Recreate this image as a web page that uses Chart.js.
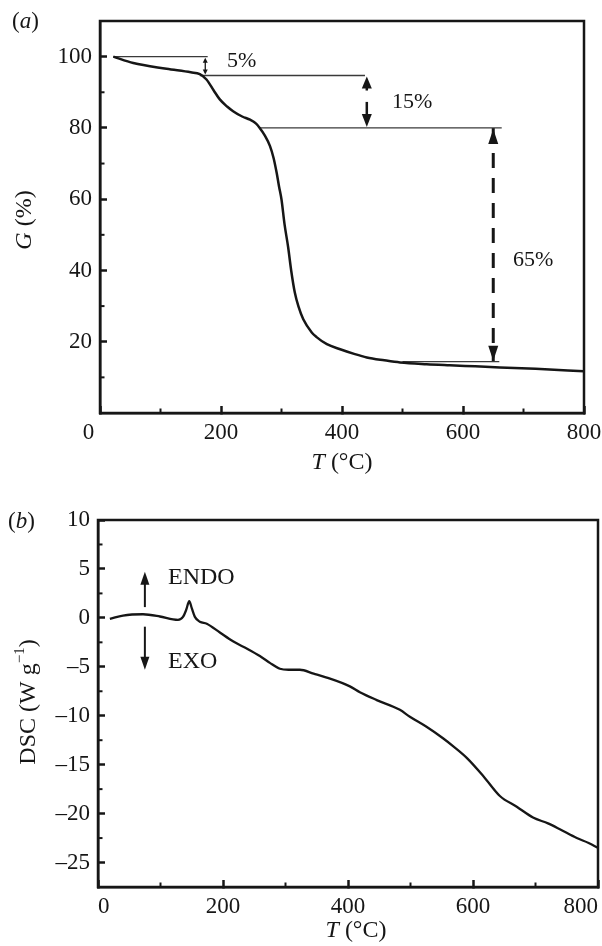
<!DOCTYPE html>
<html>
<head>
<meta charset="utf-8">
<script src="https://cdn.jsdelivr.net/npm/chart.js@4.4.1/dist/chart.umd.min.js"></script>
<style>
body { margin: 0; background: #fff; }
#wrap { position: relative; width: 602px; height: 946px; }
#tga { position: absolute; left: 0; top: 0; }
#dsc { position: absolute; left: 0; top: 480px; }
</style>
</head>
<body>
<div id="wrap">
<canvas id="tga" width="602" height="480"></canvas>
<canvas id="dsc" width="602" height="466"></canvas>
</div>
<script>
// (a) TGA curve: temperature (°C) and remaining mass G (%)
var tgaTemp = [22, 55, 110, 150, 165, 176, 188, 198, 210, 220, 235, 248, 258, 264, 272, 281, 287, 292, 296, 300, 305, 311, 316, 322, 328, 336, 350, 358, 375, 397, 420, 441, 470, 496, 540, 578, 620, 661, 720, 800];
var tgaMass = [100, 98.2, 96.6, 95.6, 95.1, 93.6, 90.5, 88, 86, 84.7, 83.2, 82.3, 81.2, 80, 78, 74.9, 71.5, 67.4, 63.5, 59.9, 53, 46.5, 40, 33.8, 29.9, 26.3, 22.6, 21.3, 19.3, 17.9, 16.6, 15.6, 14.8, 14.2, 13.7, 13.4, 13.1, 12.8, 12.4, 11.7];
var tgaYTicks = [20, 40, 60, 80, 100];
var tgaYMinor = [10, 30, 50, 70, 90];
var tempTicks = [0, 200, 400, 600, 800];
var tempMinor = [100, 300, 500, 700];

// mass-loss steps: level lines (G %) and the measuring arrows
var stepLevel = [100, 94.7, 80, 14.4];
var stepFrom = [22, 165, 264, 500];
var stepTo = [178, 438, 664, 660];
var stepArrowT = [174, 441, 650];
var stepLabels = ['5%', '15%', '65%'];

// (b) DSC curve: temperature (°C) and heat flow (W/g)
var dscTemp = [19, 40, 72, 99, 120, 128, 136, 141, 146, 150, 155, 163, 174, 195, 216, 240, 259, 275, 291, 305, 323, 345, 366, 403, 419, 446, 483, 499, 525, 552, 570, 590, 617, 643, 670, 696, 720, 739, 766, 785, 800];
var dscHeat = [-0.1, 0.24, 0.37, 0.14, -0.15, -0.2, 0.1, 0.8, 1.7, 1.0, 0.1, -0.4, -0.6, -1.5, -2.4, -3.2, -3.9, -4.6, -5.2, -5.3, -5.3, -5.7, -6.1, -7.0, -7.6, -8.4, -9.4, -10.1, -11.1, -12.3, -13.2, -14.3, -16.2, -18.2, -19.3, -20.4, -21.0, -21.6, -22.5, -23.0, -23.5];
var dscYTicks = [-25, -20, -15, -10, -5, 0, 5, 10];
var dscYLabels = ['\u201325', '\u201320', '\u201315', '\u201310', '\u20135', '0', '5', '10'];
var dscYMinor = [-22.5, -17.5, -12.5, -7.5, -2.5, 2.5, 7.5];
var endoT = 75;
var endoSpan = [1.1, 4.7];
var exoSpan = [-0.9, -5.3];

var ink = '#161616';
Chart.defaults.font.family = '"Liberation Serif", serif';
Chart.defaults.font.size = 23;
Chart.defaults.color = ink;

function pts(xs, ys) {
    return xs.map(function(x, i) { return {x: x, y: ys[i]}; });
}

function richText(ctx, parts, x, y, size, align, rot) {
    ctx.save();
    ctx.translate(x, y);
    if (rot) ctx.rotate(rot);
    ctx.textBaseline = 'middle';
    ctx.textAlign = 'left';
    ctx.fillStyle = ink;
    var fontOf = function(p) {
        return (p.italic ? 'italic ' : '') + Math.round(p.sup ? size * 0.62 : size) + 'px "Liberation Serif"';
    };
    var w = 0;
    parts.forEach(function(p) { ctx.font = fontOf(p); w += ctx.measureText(p.t).width; });
    var cx = align == 'left' ? 0 : -w / 2;
    parts.forEach(function(p) {
        ctx.font = fontOf(p);
        ctx.fillText(p.t, cx, p.sup ? -size * 0.36 : 0);
        cx += ctx.measureText(p.t).width;
    });
    ctx.restore();
}

function head(ctx, x, tip, dir, w, h) {
    // dir -1 points up, 1 points down
    ctx.beginPath();
    ctx.moveTo(x, tip);
    ctx.lineTo(x - w / 2, tip - dir * h);
    ctx.lineTo(x + w / 2, tip - dir * h);
    ctx.closePath();
    ctx.fill();
}

function frameAndMinor(chart, xMinor, yMinor) {
    var ctx = chart.ctx, a = chart.chartArea;
    var sx = chart.scales.x, sy = chart.scales.y;
    ctx.save();
    ctx.strokeStyle = ink;
    ctx.lineWidth = 2.5;
    ctx.strokeRect(a.left, a.top, a.right - a.left, a.bottom - a.top);
    ctx.lineWidth = 2;
    xMinor.forEach(function(v) {
        var px = sx.getPixelForValue(v);
        ctx.beginPath(); ctx.moveTo(px, a.bottom); ctx.lineTo(px, a.bottom - 4.5); ctx.stroke();
    });
    yMinor.forEach(function(v) {
        var py = sy.getPixelForValue(v);
        ctx.beginPath(); ctx.moveTo(a.left, py); ctx.lineTo(a.left + 4.5, py); ctx.stroke();
    });
    ctx.restore();
}

var tgaDecor = {
    id: 'tgaDecor',
    afterDraw: function(chart) {
        var ctx = chart.ctx;
        var sx = chart.scales.x, sy = chart.scales.y;
        frameAndMinor(chart, tempMinor, tgaYMinor);
        ctx.save();
        ctx.fillStyle = ink;
        ctx.strokeStyle = ink;

        // 5% small double arrow
        var x5 = sx.getPixelForValue(stepArrowT[0]);
        var t5 = sy.getPixelForValue(stepLevel[0]), b5 = sy.getPixelForValue(stepLevel[1]);
        ctx.lineWidth = 1.3;
        ctx.beginPath(); ctx.moveTo(x5, t5 + 3); ctx.lineTo(x5, b5 - 3); ctx.stroke();
        head(ctx, x5, t5 + 1, -1, 5, 5);
        head(ctx, x5, b5 - 1, 1, 5, 5);

        // 15% split arrows
        var x15 = sx.getPixelForValue(stepArrowT[1]);
        var t15 = sy.getPixelForValue(stepLevel[1]), b15 = sy.getPixelForValue(stepLevel[2]);
        ctx.lineWidth = 2.5;
        ctx.beginPath(); ctx.moveTo(x15, t15 + 10); ctx.lineTo(x15, t15 + 15); ctx.stroke();
        head(ctx, x15, t15 + 1, -1, 10, 12);
        ctx.beginPath(); ctx.moveTo(x15, b15 - 26); ctx.lineTo(x15, b15 - 12); ctx.stroke();
        head(ctx, x15, b15 - 1, 1, 10, 13);

        // 65% dashed arrow heads
        var x65 = sx.getPixelForValue(stepArrowT[2]);
        head(ctx, x65, sy.getPixelForValue(stepLevel[2]) + 1, -1, 10, 15);
        head(ctx, x65, sy.getPixelForValue(stepLevel[3]) - 1, 1, 10, 15);
        ctx.restore();

        richText(ctx, [{t: stepLabels[0]}], 227, 61, 22, 'left');
        richText(ctx, [{t: stepLabels[1]}], 392, 102, 22, 'left');
        richText(ctx, [{t: stepLabels[2]}], 513, 260, 22, 'left');
        richText(ctx, [{t: '('}, {t: 'a', italic: true}, {t: ')'}], 12, 22, 23, 'left');
        richText(ctx, [{t: 'G', italic: true}, {t: ' (%)'}], 25, 220, 24, 'center', -Math.PI / 2);
        richText(ctx, [{t: 'T', italic: true}, {t: ' (\u00b0C)'}], 342, 463, 24, 'center');
    }
};

var dscDecor = {
    id: 'dscDecor',
    afterDraw: function(chart) {
        var ctx = chart.ctx;
        var sx = chart.scales.x, sy = chart.scales.y;
        frameAndMinor(chart, tempMinor, dscYMinor);
        ctx.save();
        ctx.fillStyle = ink;
        ctx.strokeStyle = ink;
        ctx.lineWidth = 2;
        var xa = sx.getPixelForValue(endoT);
        var u0 = sy.getPixelForValue(endoSpan[0]), u1 = sy.getPixelForValue(endoSpan[1]);
        ctx.beginPath(); ctx.moveTo(xa, u0); ctx.lineTo(xa, u1 + 10); ctx.stroke();
        head(ctx, xa, u1, -1, 9, 13);
        var d0 = sy.getPixelForValue(exoSpan[0]), d1 = sy.getPixelForValue(exoSpan[1]);
        ctx.beginPath(); ctx.moveTo(xa, d0); ctx.lineTo(xa, d1 - 10); ctx.stroke();
        head(ctx, xa, d1, 1, 9, 13);
        ctx.restore();

        richText(ctx, [{t: 'ENDO'}], 168, 98, 24, 'left');
        richText(ctx, [{t: 'EXO'}], 168, 182, 24, 'left');
        richText(ctx, [{t: '('}, {t: 'b', italic: true}, {t: ')'}], 8, 42, 23, 'left');
        richText(ctx, [{t: 'DSC (W g'}, {t: '\u22121', sup: true}, {t: ')'}], 29, 222, 24, 'center', -Math.PI / 2);
        richText(ctx, [{t: 'T', italic: true}, {t: ' (\u00b0C)'}], 356, 451, 24, 'center');
    }
};

function axisX(height, align, zeroLeft) {
    return {
        type: 'linear', min: 0, max: 800,
        afterBuildTicks: function(s) { s.ticks = tempTicks.map(function(v) { return {value: v}; }); },
        afterFit: function(s) { s.height = height; s.paddingLeft = 0; s.paddingRight = 0; },
        grid: {drawOnChartArea: false, tickLength: -7, tickWidth: 2.5, tickColor: ink},
        border: {color: ink, width: 2.5},
        ticks: {
            padding: 13, maxRotation: 0, autoSkip: false, align: align,
            // the shared corner "0" in (a) sits left of the origin
            callback: function(v) { return (v === 0 && zeroLeft) ? '0\u2003' : String(v); }
        }
    };
}

function axisY(min, max, values, labels, width) {
    return {
        type: 'linear', min: min, max: max,
        afterBuildTicks: function(s) { s.ticks = values.map(function(v) { return {value: v}; }); },
        afterFit: function(s) { s.width = width; s.paddingTop = 0; s.paddingBottom = 0; },
        grid: {drawOnChartArea: false, tickLength: -7, tickWidth: 2.5, tickColor: ink},
        border: {color: ink, width: 2.5},
        ticks: {
            padding: 15, autoSkip: false,
            callback: function(v) { return labels[values.indexOf(v)]; }
        }
    };
}

var tgaSets = [{
    data: pts(tgaTemp, tgaMass),
    borderColor: ink, borderWidth: 2.5, pointRadius: 0, cubicInterpolationMode: 'monotone'
}];
stepLevel.forEach(function(g, i) {
    tgaSets.push({
        data: [{x: stepFrom[i], y: g}, {x: stepTo[i], y: g}],
        borderColor: '#3a3a3a', borderWidth: 1.3, pointRadius: 0
    });
});
tgaSets.push({
    data: [{x: stepArrowT[2], y: stepLevel[2]}, {x: stepArrowT[2], y: stepLevel[3]}],
    borderColor: ink, borderWidth: 3, borderDash: [15, 10], pointRadius: 0
});

new Chart(document.getElementById('tga'), {
    type: 'line',
    data: {datasets: tgaSets},
    options: {
        responsive: false,
        animation: false,
        layout: {padding: {top: 21, right: 18, left: 0, bottom: 0}},
        plugins: {legend: {display: false}, tooltip: {enabled: false}},
        scales: {
            x: axisX(67, 'center', true),
            y: axisY(0, 110, tgaYTicks, tgaYTicks.map(String), 100)
        }
    },
    plugins: [tgaDecor]
});

new Chart(document.getElementById('dsc'), {
    type: 'line',
    data: {datasets: [{
        data: pts(dscTemp, dscHeat),
        borderColor: ink, borderWidth: 2.3, pointRadius: 0, cubicInterpolationMode: 'monotone'
    }]},
    options: {
        responsive: false,
        animation: false,
        layout: {padding: {top: 40, right: 4, left: 0, bottom: 0}},
        plugins: {legend: {display: false}, tooltip: {enabled: false}},
        scales: {
            x: axisX(59, 'inner', false),
            y: axisY(-27.5, 10, dscYTicks, dscYLabels, 98)
        }
    },
    plugins: [dscDecor]
});
</script>
</body>
</html>
